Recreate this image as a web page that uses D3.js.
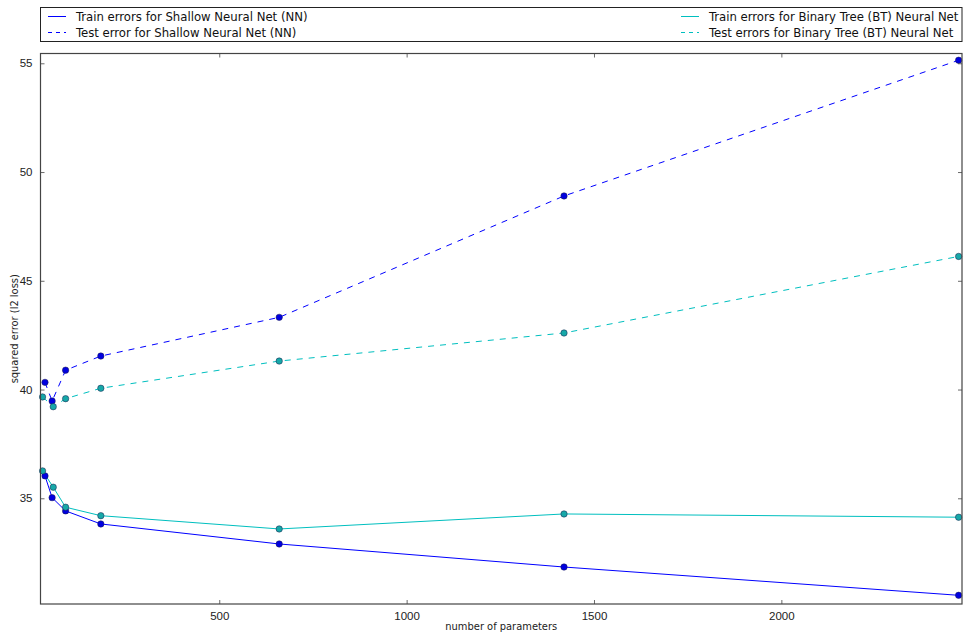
<!DOCTYPE html>
<html>
<head>
<meta charset="utf-8">
<script src="https://cdn.jsdelivr.net/npm/d3@7"></script>
<style>
  html, body { margin: 0; padding: 0; background: #fff; }
  svg { display: block; font-family: "DejaVu Sans Condensed", "Liberation Sans", sans-serif; }
</style>
</head>
<body>
<svg id="chart" width="964" height="635"></svg>
<script>
// Number of parameters for each network size
const nnParams = [35, 54, 90, 184, 660, 1420, 2473];
const btParams = [28.5, 57, 90, 184, 660, 1420, 2473];

// Squared error (l2 loss) per model
const nnTrain = [36.03, 35.03, 34.42, 33.82, 32.90, 31.84, 30.54];
const nnTest  = [40.33, 39.47, 40.89, 41.54, 43.32, 48.90, 55.14];
const btTrain = [36.26, 35.51, 34.59, 34.20, 33.59, 34.28, 34.13];
const btTest  = [39.66, 39.21, 39.58, 40.06, 41.31, 42.60, 46.12];

const xTicks = [500, 1000, 1500, 2000];
const yTicks = [35, 40, 45, 50, 55];

const seriesNames = [
  "Train errors for Shallow Neural Net (NN)",
  "Test error for Shallow Neural Net (NN)",
  "Train errors for Binary Tree (BT) Neural Net",
  "Test errors for Binary Tree (BT) Neural Net"
];

const BLUE = "#0000ff";
const CYAN = "#00bfbf";

const series = [
  { name: seriesNames[0], xs: nnParams, ys: nnTrain, color: BLUE, fill: "#0000e0", dash: null },
  { name: seriesNames[1], xs: nnParams, ys: nnTest,  color: BLUE, fill: "#0000e0", dash: "6,6" },
  { name: seriesNames[2], xs: btParams, ys: btTrain, color: CYAN, fill: "#16a8a8", dash: null },
  { name: seriesNames[3], xs: btParams, ys: btTest,  color: CYAN, fill: "#16a8a8", dash: "6,6" }
];

const svg = d3.select("#chart");
const plot = { left: 40.5, right: 962, top: 53.5, bottom: 604 };

const x = d3.scaleLinear().domain([23, 2482]).range([plot.left, plot.right]);
const y = d3.scaleLinear().domain([30.14, 55.45]).range([plot.bottom, plot.top]);

// Series lines
const line = d3.line().x(d => x(d[0])).y(d => y(d[1]));
series.forEach(s => {
  const pts = s.xs.map((v, i) => [v, s.ys[i]]);
  svg.append("path")
    .datum(pts)
    .attr("d", line)
    .attr("fill", "none")
    .attr("stroke", s.color)
    .attr("stroke-width", 1)
    .attr("stroke-dasharray", s.dash);
});

// Markers
series.forEach(s => {
  svg.append("g").selectAll("circle")
    .data(s.xs.map((v, i) => [v, s.ys[i]]))
    .join("circle")
    .attr("cx", d => x(d[0]))
    .attr("cy", d => y(d[1]))
    .attr("r", 3.2)
    .attr("fill", s.fill)
    .attr("stroke", "#1a1a4a")
    .attr("stroke-width", 0.5);
});

// Axes: ticks point inward on all four sides
const tickStyle = g => {
  g.select(".domain").remove();
  g.selectAll(".tick line").attr("stroke", "#444").attr("stroke-width", 0.8);
  g.selectAll(".tick text").attr("fill", "#222").style("font-size", "11.5px");
};
const fmt = d3.format("d");

svg.append("g")
  .attr("transform", `translate(0,${plot.bottom})`)
  .call(d3.axisBottom(x).tickValues(xTicks).tickFormat(fmt).tickSizeInner(-4).tickSizeOuter(0).tickPadding(8))
  .call(tickStyle);
svg.append("g")
  .attr("transform", `translate(0,${plot.top})`)
  .call(d3.axisTop(x).tickValues(xTicks).tickSizeInner(-4).tickSizeOuter(0).tickFormat(""))
  .call(tickStyle);
svg.append("g")
  .attr("transform", `translate(${plot.left},0)`)
  .call(d3.axisLeft(y).tickValues(yTicks).tickFormat(fmt).tickSizeInner(-4).tickSizeOuter(0).tickPadding(8))
  .call(tickStyle);
svg.append("g")
  .attr("transform", `translate(${plot.right},0)`)
  .call(d3.axisRight(y).tickValues(yTicks).tickSizeInner(-4).tickSizeOuter(0).tickFormat(""))
  .call(tickStyle);

// Plot frame
svg.append("rect")
  .attr("x", plot.left).attr("y", plot.top)
  .attr("width", plot.right - plot.left).attr("height", plot.bottom - plot.top)
  .attr("fill", "none").attr("stroke", "#444").attr("stroke-width", 1.2);

// Axis labels
svg.append("text")
  .attr("x", (plot.left + plot.right) / 2).attr("y", 630)
  .attr("text-anchor", "middle").style("font-size", "11px").attr("fill", "#222")
  .text("number of parameters");
svg.append("text")
  .attr("transform", `translate(18,${(plot.top + plot.bottom) / 2}) rotate(-90)`)
  .attr("text-anchor", "middle").style("font-size", "11px").attr("fill", "#222")
  .text("squared error (l2 loss)");

// Legend spanning the width above the plot, two columns
const legend = svg.append("g");
legend.append("rect")
  .attr("x", 40.5).attr("y", 7.5).attr("width", 921.5).attr("height", 34)
  .attr("fill", "#fff").attr("stroke", "#222").attr("stroke-width", 1);
const legendPos = [
  { lx: 48, ty: 16.5 }, { lx: 48, ty: 32.5 },
  { lx: 681, ty: 16.5 }, { lx: 681, ty: 32.5 }
];
series.forEach((s, i) => {
  const p = legendPos[i];
  legend.append("line")
    .attr("x1", p.lx).attr("x2", p.lx + 18)
    .attr("y1", p.ty).attr("y2", p.ty)
    .attr("stroke", s.color).attr("stroke-width", 1)
    .attr("stroke-dasharray", s.dash ? "4,4" : null);
  legend.append("text")
    .attr("x", p.lx + 28).attr("y", p.ty)
    .attr("dy", "0.35em")
    .style("font-size", "13px").attr("fill", "#111")
    .text(s.name);
});
</script>
</body>
</html>
